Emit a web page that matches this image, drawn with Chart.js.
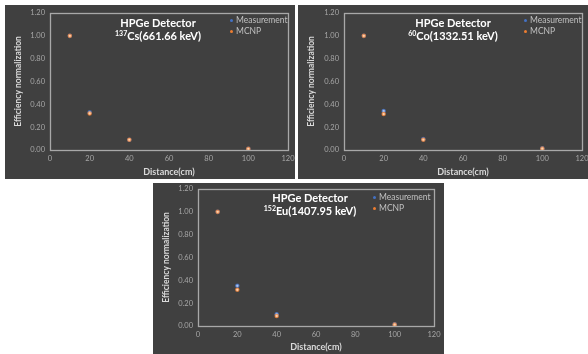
<!DOCTYPE html>
<html>
<head>
<meta charset="utf-8">
<script src="https://cdn.jsdelivr.net/npm/chart.js@4"></script>
<style>
body { margin: 0; background: #fff; width: 588px; height: 354px; position: relative; overflow: hidden; font-family: Lato, sans-serif; }
.panel { position: absolute; background: #404040; }
.panel canvas { position: absolute; left: 0; top: 0; }
.ttl { position: absolute; color: #fff; font-weight: bold; font-size: 11px; line-height: 13px; text-align: center; white-space: nowrap; transform: translateX(-50%); }
.ttl sup { font-size: 7px; vertical-align: 4px; line-height: 0; }
.leg { position: absolute; color: #c0c0c0; font-size: 8.5px; line-height: 11px; white-space: nowrap; }
.leg i { display: inline-block; width: 3px; height: 3px; border-radius: 50%; margin-right: 3px; vertical-align: middle; }
</style>
</head>
<body>
<script>
// distances (cm) and normalized efficiencies
const distances = [10, 20, 40, 100];
const csMeasurement = [1.00, 0.33, 0.09, 0.01];
const csMcnp = [1.00, 0.32, 0.09, 0.01];
const coMeasurement = [1.00, 0.342, 0.095, 0.015];
const coMcnp = [1.00, 0.315, 0.09, 0.012];
const euMeasurement = [1.00, 0.352, 0.103, 0.015];
const euMcnp = [1.00, 0.317, 0.088, 0.012];
const seriesNames = ['Measurement', 'MCNP'];
const seriesColors = ['#4472c4', '#ed7d31'];
const xRange = [0, 120, 20];
const yRange = [0, 1.2, 0.2];

const framePlugin = {
  id: 'plotFrame',
  afterDraw(chart) {
    const a = chart.chartArea;
    const c = chart.ctx;
    c.save();
    c.strokeStyle = '#a8a8a8';
    c.lineWidth = 1.3;
    c.strokeRect(Math.round(a.left) + 0.5, Math.round(a.top) + 0.5, Math.round(a.right - a.left), Math.round(a.bottom - a.top));
    c.restore();
  }
};

function makePanel(p) {
  const div = document.createElement('div');
  div.className = 'panel';
  div.style.left = p.x + 'px';
  div.style.top = p.y + 'px';
  div.style.width = p.w + 'px';
  div.style.height = p.h + 'px';
  document.body.appendChild(div);

  const cv = document.createElement('canvas');
  cv.width = p.w;
  cv.height = p.h;
  div.appendChild(cv);

  const t = document.createElement('div');
  t.className = 'ttl';
  t.style.left = p.titleX + 'px';
  t.style.top = p.titleY + 'px';
  t.innerHTML = 'HPGe Detector<br><sup>' + p.iso + '</sup>' + p.sub;
  div.appendChild(t);

  const lg = document.createElement('div');
  lg.className = 'leg';
  lg.style.left = p.legX + 'px';
  lg.style.top = p.legY + 'px';
  lg.innerHTML = seriesNames.map((n, i) => '<i style="background:' + seriesColors[i] + '"></i>' + n).join('<br>');
  div.appendChild(lg);

  new Chart(cv, {
    type: 'scatter',
    data: {
      datasets: [
        {
          label: seriesNames[0],
          data: distances.map((d, i) => ({ x: d, y: p.meas[i] })),
          backgroundColor: '#a9c2ee',
          borderColor: 'rgba(68,114,196,0.7)',
          borderWidth: 1.2,
          pointRadius: 1.7,
          order: 1
        },
        {
          label: seriesNames[1],
          data: distances.map((d, i) => ({ x: d, y: p.mcnp[i] })),
          backgroundColor: '#fcd0ae',
          borderColor: 'rgba(237,125,49,0.7)',
          borderWidth: 1.2,
          pointRadius: 1.7,
          order: 0
        }
      ]
    },
    options: {
      responsive: false,
      animation: false,
      layout: { padding: { left: 0, right: p.w - p.right, top: p.top, bottom: 0 } },
      plugins: { legend: { display: false }, tooltip: { enabled: false } },
      scales: {
        x: {
          min: xRange[0], max: xRange[1],
          grid: { display: false, drawTicks: false },
          border: { display: false },
          ticks: { stepSize: xRange[2], color: '#a6a6a6', font: { family: 'Lato', size: 7.5 }, padding: 4 },
          title: { display: true, text: 'Distance(cm)', color: '#d9d9d9', font: { family: 'Lato', size: 9, weight: 'bold' }, padding: { top: 0, bottom: p.xTitlePad } },
          afterFit(s) { s.height = p.h - p.bottom; s.paddingLeft = 0; s.paddingRight = 0; }
        },
        y: {
          min: yRange[0], max: yRange[1],
          grid: { display: false, drawTicks: false },
          border: { display: false },
          ticks: { stepSize: yRange[2], color: '#a6a6a6', font: { family: 'Lato', size: 7.5 }, padding: 5, callback: v => v.toFixed(2) },
          title: { display: true, text: 'Efficiency normalization', color: '#d9d9d9', font: { family: 'Lato', size: 8.5, weight: 'bold' }, padding: { top: p.yTitlePad, bottom: 0 } },
          afterFit(s) { s.width = p.left; s.paddingTop = 0; s.paddingBottom = 0; }
        }
      }
    },
    plugins: [framePlugin]
  });
}

makePanel({ x: 5, y: 5, w: 290, h: 174, left: 45, right: 283, top: 8, bottom: 145,
  titleX: 153, titleY: 11, iso: '137', sub: 'Cs(661.66 keV)', legX: 225, legY: 10,
  xTitlePad: 2, yTitlePad: 8, meas: csMeasurement, mcnp: csMcnp });
makePanel({ x: 298, y: 5, w: 290, h: 174, left: 46, right: 284, top: 8, bottom: 145,
  titleX: 155, titleY: 11, iso: '60', sub: 'Co(1332.51 keV)', legX: 226, legY: 10,
  xTitlePad: 2, yTitlePad: 8, meas: coMeasurement, mcnp: coMcnp });
makePanel({ x: 153, y: 183, w: 291, h: 171, left: 45, right: 281, top: 6, bottom: 143,
  titleX: 157, titleY: 8, iso: '152', sub: 'Eu(1407.95 keV)', legX: 220, legY: 9,
  xTitlePad: 2, yTitlePad: 8, meas: euMeasurement, mcnp: euMcnp });
</script>
</body>
</html>
